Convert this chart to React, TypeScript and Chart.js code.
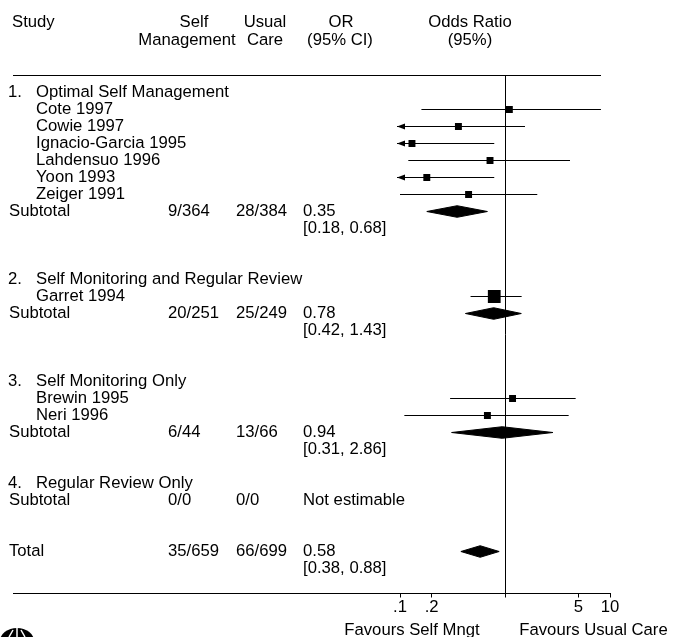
import { useEffect, useRef } from "react";
import { Chart, registerables } from "chart.js";

Chart.register(...registerables);

// ---------- data ----------
const studyNames = ["Cote 1997", "Cowie 1997", "Ignacio-Garcia 1995", "Lahdensuo 1996", "Yoon 1993", "Zeiger 1991", "Garret 1994", "Brewin 1995", "Neri 1996"];
const studyRows = [2, 3, 4, 5, 6, 7, 13, 19, 20];
const studyOR = [1.1, 0.36, 0.13, 0.72, 0.18, 0.45, 0.79, 1.18, 0.68];
const studyLow = [0.16, 0.04, 0.02, 0.12, 0.03, 0.1, 0.47, 0.3, 0.11];
const studyHigh = [8.2, 1.55, 0.79, 4.16, 0.79, 2.03, 1.44, 4.71, 4.04];
const studyWeight = [1, 1, 1, 1, 1, 1, 3.4, 1, 1];

const groupNumbers = ["1.", "2.", "3.", "4."];
const groupTitles = ["Optimal Self Management", "Self Monitoring and Regular Review", "Self Monitoring Only", "Regular Review Only"];
const groupRows = [1, 12, 18, 24];

const summaryLabels = ["Subtotal", "Subtotal", "Subtotal", "Subtotal", "Total"];
const summaryRows = [8, 14, 21, 25, 28];
const summarySelf = ["9/364", "20/251", "6/44", "0/0", "35/659"];
const summaryUsual = ["28/384", "25/249", "13/66", "0/0", "66/699"];
const summaryOR: (number | null)[] = [0.35, 0.78, 0.94, null, 0.58];
const summaryLow: (number | null)[] = [0.18, 0.42, 0.31, null, 0.38];
const summaryHigh: (number | null)[] = [0.68, 1.43, 2.86, null, 0.88];

const headerLine1 = ["Study", "Self", "Usual", "OR", "Odds Ratio"];
const headerLine2 = ["", "Management", "Care", "(95% CI)", "(95%)"];

const tickValues = [0.1, 0.2, 1, 5, 10];
const tickLabels = [".1", ".2", "", "5", "10"];
const favourLabels = ["Favours Self Mngt", "Favours Usual Care"];

// ---------- style ----------
const FONT = '"Liberation Sans", Arial, Helvetica, sans-serif';
const FS = 16.7;

export default function App() {
  const ref = useRef<HTMLCanvasElement>(null);

  useEffect(() => {
    document.body.style.margin = "0";
    const canvas = ref.current!;

    const fmt = (v: number) => v.toFixed(2);

    const tablePlugin = {
      id: "forestTable",
      afterDraw(chart: any) {
        const { ctx, scales, chartArea } = chart;
        const xs = scales.x;
        const ys = scales.y;
        const rowY = (r: number) => ys.getPixelForValue(r);
        ctx.save();
        ctx.fillStyle = "#000";
        ctx.strokeStyle = "#000";
        ctx.font = `${FS}px ${FONT}`;
        ctx.textBaseline = "alphabetic";

        // header
        const h1x = [12, 194, 265, 341, 470];
        const h2x = [12, 187, 265, 340, 470];
        headerLine1.forEach((t, i) => {
          ctx.textAlign = i === 0 ? "left" : "center";
          ctx.fillText(t, h1x[i], 26.6);
        });
        headerLine2.forEach((t, i) => {
          if (!t) return;
          ctx.textAlign = "center";
          ctx.fillText(t, h2x[i], 45.2);
        });

        // rules
        ctx.lineWidth = 1.2;
        ctx.beginPath();
        ctx.moveTo(13, chartArea.top);
        ctx.lineTo(601, chartArea.top);
        ctx.stroke();
        ctx.lineWidth = 1;
        ctx.beginPath();
        ctx.moveTo(13, chartArea.bottom);
        ctx.lineTo(chartArea.left, chartArea.bottom);
        ctx.stroke();

        ctx.textAlign = "left";
        const off = 4.4;
        // groups
        groupTitles.forEach((t, i) => {
          const yy = rowY(groupRows[i]) + off;
          ctx.fillText(groupNumbers[i], 8, yy);
          ctx.fillText(t, 36, yy);
        });
        // studies
        studyNames.forEach((t, i) => {
          ctx.fillText(t, 36, rowY(studyRows[i]) + off);
        });
        // summaries
        summaryLabels.forEach((t, i) => {
          const yy = rowY(summaryRows[i]) + off;
          ctx.fillText(t, 9, yy);
          ctx.fillText(summarySelf[i], 168, yy);
          ctx.fillText(summaryUsual[i], 236, yy);
          const or = summaryOR[i];
          if (or == null) {
            ctx.fillText("Not estimable", 303, yy);
          } else {
            ctx.fillText(fmt(or), 303, yy);
            ctx.fillText(`[${fmt(summaryLow[i] as number)}, ${fmt(summaryHigh[i] as number)}]`, 303, rowY(summaryRows[i] + 1) + off);
          }
        });

        // arrows for CIs beyond the axis minimum
        studyLow.forEach((lo, i) => {
          if (lo >= (xs.min as number)) return;
          const yy = rowY(studyRows[i]);
          const tip = chartArea.left - 3;
          ctx.beginPath();
          ctx.moveTo(tip, yy);
          ctx.lineTo(tip + 8, yy - 3);
          ctx.lineTo(tip + 8, yy + 3);
          ctx.closePath();
          ctx.fill();
          ctx.beginPath();
          ctx.moveTo(tip, yy);
          ctx.lineTo(chartArea.left + 1, yy);
          ctx.stroke();
        });

        // favours labels
        ctx.textAlign = "center";
        ctx.fillText(favourLabels[0], 412, 634.5);
        ctx.fillText(favourLabels[1], 593.5, 634.5);

        // logo (partial)
        ctx.beginPath();
        ctx.ellipse(17, 641, 17, 13, 0, 0, Math.PI * 2);
        ctx.fill();
        ctx.strokeStyle = "#fff";
        ctx.lineWidth = 1.5;
        ctx.beginPath();
        ctx.moveTo(9, 637);
        ctx.lineTo(13, 630);
        ctx.moveTo(25, 637);
        ctx.lineTo(21, 630);
        ctx.moveTo(17, 628);
        ctx.lineTo(17, 637);
        ctx.stroke();
        ctx.restore();
      },
    };

    const squares = studyOR.map((v, i) => ({ x: v, y: studyRows[i] }));
    const ciLines: any[] = [];
    studyOR.forEach((_, i) => {
      ciLines.push({ x: studyLow[i], y: studyRows[i] });
      ciLines.push({ x: studyHigh[i], y: studyRows[i] });
      ciLines.push({ x: studyHigh[i], y: null });
    });

    const diamondHalf = 0.34;
    const diamonds: any[] = [];
    summaryOR.forEach((or, i) => {
      if (or == null) return;
      const r = summaryRows[i];
      const lo = summaryLow[i] as number;
      const hi = summaryHigh[i] as number;
      diamonds.push({
        type: "line",
        data: [
          { x: lo, y: r },
          { x: or, y: r - diamondHalf },
          { x: hi, y: r },
          { x: or, y: r + diamondHalf },
          { x: lo, y: r },
        ],
        borderColor: "#000",
        backgroundColor: "#000",
        borderWidth: 1,
        pointRadius: 0,
        fill: "shape",
        tension: 0,
      });
    });

    const chart = new Chart(canvas, {
      type: "scatter",
      data: {
        datasets: [
          {
            type: "scatter",
            data: squares,
            pointStyle: "rect",
            pointRadius: (c: any) => 4.9 * Math.sqrt(studyWeight[c.dataIndex] ?? 1),
            backgroundColor: "#000",
            borderWidth: 0,
          } as any,
          {
            type: "line",
            data: ciLines,
            borderColor: "#000",
            borderWidth: 1,
            pointRadius: 0,
            spanGaps: false,
            fill: false,
          } as any,
          ...diamonds,
        ],
      },
      options: {
        responsive: false,
        animation: false,
        events: [],
        layout: { padding: { left: 400, right: 63, top: 75.5, bottom: 0 } },
        plugins: {
          legend: { display: false },
          tooltip: { enabled: false },
        },
        scales: {
          x: {
            type: "logarithmic",
            position: "bottom",
            min: 0.1,
            max: 10,
            afterBuildTicks: (s: any) => {
              s.ticks = tickValues.map((v) => ({ value: v }));
            },
            afterFit: (s: any) => {
              s.height = 43.5;
            },
            ticks: {
              autoSkip: false,
              maxRotation: 0,
              minRotation: 0,
              padding: 0,
              color: "#000",
              font: { family: FONT, size: FS },
              callback: (v: any) => {
                const i = tickValues.indexOf(Number(v));
                return i >= 0 ? tickLabels[i] : "";
              },
            },
            grid: {
              color: (c: any) => (c.tick && c.tick.value === 1 ? "#000" : "rgba(0,0,0,0)"),
              tickColor: "#000",
              tickLength: 4,
              lineWidth: 1,
            },
            border: { display: true, color: "#000", width: 1 },
          },
          y: {
            type: "linear",
            display: false,
            reverse: true,
            min: 0,
            max: 30.47,
          },
        },
      } as any,
      plugins: [tablePlugin],
    });

    return () => chart.destroy();
  }, []);

  return (
    <div style={{ width: 673, height: 637, background: "#fff" }}>
      <canvas ref={ref} width={673} height={637} style={{ display: "block" }} />
    </div>
  );
}
